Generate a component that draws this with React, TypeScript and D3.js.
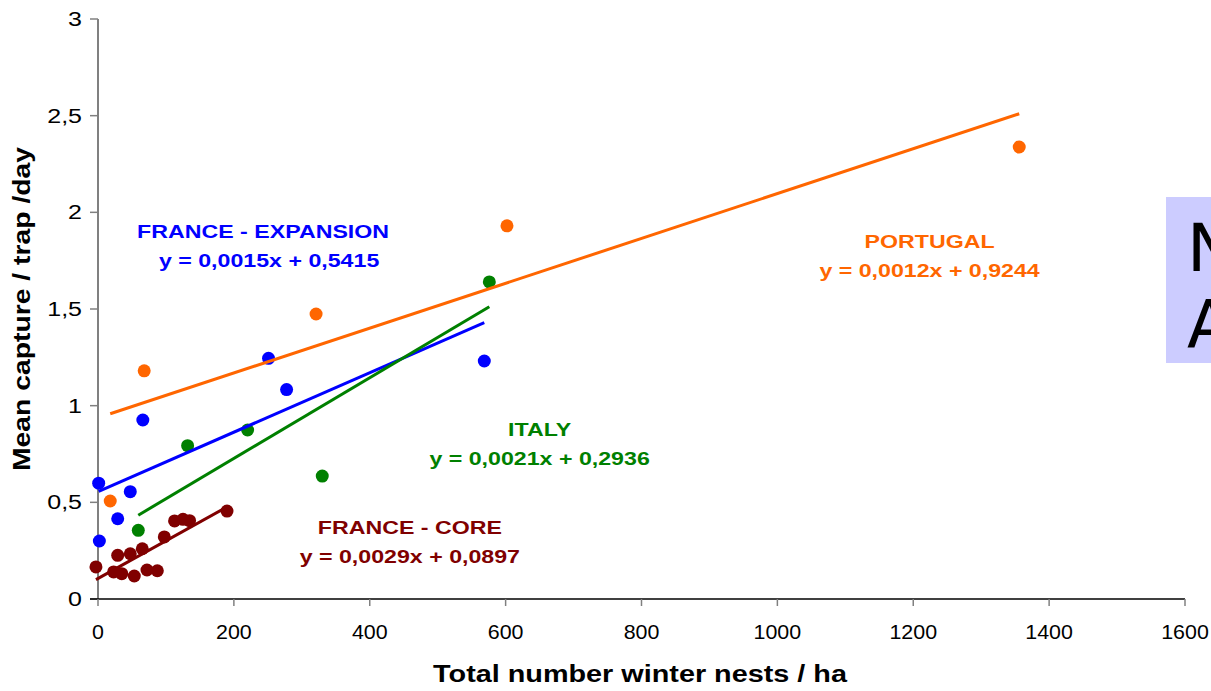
import React from "react";
import * as d3 from "d3";

const xTicks = [0, 200, 400, 600, 800, 1000, 1200, 1400, 1600];
const yTicks = [0, 0.5, 1, 1.5, 2, 2.5, 3];
const yTickLabels = ["0", "0,5", "1", "1,5", "2", "2,5", "3"];

const portugalX = [18, 68, 321, 602, 1356];
const portugalY = [0.507, 1.18, 1.474, 1.93, 2.338];

const expansionX = [1, 2, 29, 47.5, 66, 251, 277.6, 568.6];
const expansionY = [0.599, 0.3, 0.415, 0.555, 0.926, 1.245, 1.083, 1.231];

const italyX = [59.3, 131.9, 220.2, 330.1, 576];
const italyY = [0.355, 0.793, 0.874, 0.636, 1.64];

const coreX = [-3, 23, 35, 29, 47.5, 53.4, 65.2, 72.1, 87.3, 97.6, 112.7, 125.1, 134.8, 189.9];
const coreY = [0.166, 0.14, 0.131, 0.226, 0.234, 0.119, 0.26, 0.15, 0.146, 0.321, 0.404, 0.412, 0.405, 0.455];

const seriesNames = ["PORTUGAL", "FRANCE - EXPANSION", "ITALY", "FRANCE - CORE"];
const equations = [
  "y = 0,0012x + 0,9244",
  "y = 0,0015x + 0,5415",
  "y = 0,0021x + 0,2936",
  "y = 0,0029x + 0,0897",
];
const seriesColors = ["#ff6600", "#0000ff", "#008000", "#800000"];
// label anchor positions in data units (x, y)
const labelX = [1224, 243, 650, 459];
const labelY = [1.85, 1.9, 0.88, 0.37];

const W = 1211;
const H = 691;
const FONT = "'Liberation Sans', Arial, sans-serif";

function regress(xs: number[], ys: number[]) {
  const mx = d3.mean(xs)!;
  const my = d3.mean(ys)!;
  let sxx = 0;
  let sxy = 0;
  xs.forEach((x, i) => {
    sxx += (x - mx) * (x - mx);
    sxy += (x - mx) * (ys[i] - my);
  });
  const slope = sxy / sxx;
  return { slope, intercept: my - slope * mx };
}

export default function App() {
  const x = d3.scaleLinear().domain([0, 1600]).range([98, 1185]);
  const y = d3.scaleLinear().domain([0, 3]).range([599, 19]);

  const series = [
    { xs: portugalX, ys: portugalY },
    { xs: expansionX, ys: expansionY },
    { xs: italyX, ys: italyY },
    { xs: coreX, ys: coreY },
  ];

  const line = d3
    .line<[number, number]>()
    .x((d) => x(d[0]))
    .y((d) => y(d[1]));

  return (
    <svg
      width={W}
      height={H}
      style={{ position: "absolute", left: 0, top: 0, background: "#fff" }}
      fontFamily={FONT}
    >
      {/* side box */}
      <rect x={1166} y={197} width={60} height={166} fill="#ccccff" />
      <text x={1187} y={271} fontSize={66} fontFamily="'DejaVu Sans', sans-serif" fill="#000">
        N
      </text>
      <text x={1187} y={347} fontSize={66} fontFamily="'DejaVu Sans', sans-serif" fill="#000">
        A
      </text>

      {/* y axis */}
      <line x1={x(0)} x2={x(0)} y1={y(3)} y2={y(0)} stroke="#808080" strokeWidth={2} />
      {yTicks.map((t, i) => (
        <g key={"yt" + i}>
          <line x1={x(0) - 8} x2={x(0)} y1={y(t)} y2={y(t)} stroke="#808080" strokeWidth={1.5} />
          <text
            transform={`translate(82,${y(t)}) scale(1.25,1)`}
            dy="0.35em"
            textAnchor="end"
            fontSize={20}
            fill="#000"
          >
            {yTickLabels[i]}
          </text>
        </g>
      ))}

      {/* x axis */}
      <line x1={90} x2={x(1600)} y1={y(0)} y2={y(0)} stroke="#000" strokeWidth={1.5} />
      {xTicks.map((t, i) => (
        <g key={"xt" + i}>
          <line x1={x(t)} x2={x(t)} y1={y(0)} y2={y(0) + 7} stroke="#808080" strokeWidth={1.5} />
          <text
            transform={`translate(${x(t)},632) scale(1.07,1)`}
            dy="0.35em"
            textAnchor="middle"
            fontSize={20}
            fill="#000"
          >
            {String(t)}
          </text>
        </g>
      ))}

      {/* axis titles */}
      <text
        transform="translate(640,674) scale(1.2,1)"
        dy="0.35em"
        textAnchor="middle"
        fontSize={24}
        fontWeight="bold"
        fill="#000"
      >
        Total number winter nests / ha
      </text>
      <text
        transform="translate(22,309) rotate(-90) scale(1.18,1)"
        dy="0.35em"
        textAnchor="middle"
        fontSize={24}
        fontWeight="bold"
        fill="#000"
      >
        Mean capture / trap /day
      </text>

      {/* points */}
      {series.map((s, si) =>
        s.xs.map((xv, i) => (
          <circle key={`p${si}-${i}`} cx={x(xv)} cy={y(s.ys[i])} r={6.5} fill={seriesColors[si]} />
        ))
      )}

      {/* trend lines */}
      {series.map((s, si) => {
        const { slope, intercept } = regress(s.xs, s.ys);
        const [x0, x1] = d3.extent(s.xs) as [number, number];
        const pts: [number, number][] = [
          [x0, intercept + slope * x0],
          [x1, intercept + slope * x1],
        ];
        return <path key={"l" + si} d={line(pts)!} stroke={seriesColors[si]} strokeWidth={3} fill="none" />;
      })}

      {/* labels */}
      {seriesNames.map((n, i) => (
        <g key={"lab" + i} fill={seriesColors[i]} fontSize={19} fontWeight="bold" textAnchor="middle">
          <text transform={`translate(${x(labelX[i])},${y(labelY[i])}) scale(1.22,1)`} dy="0.35em">
            {n}
          </text>
          <text
            transform={`translate(${x(labelX[i]) + (i === 1 ? 6 : 0)},${y(labelY[i]) + 29}) scale(1.22,1)`}
            dy="0.35em"
          >
            {equations[i]}
          </text>
        </g>
      ))}
    </svg>
  );
}
